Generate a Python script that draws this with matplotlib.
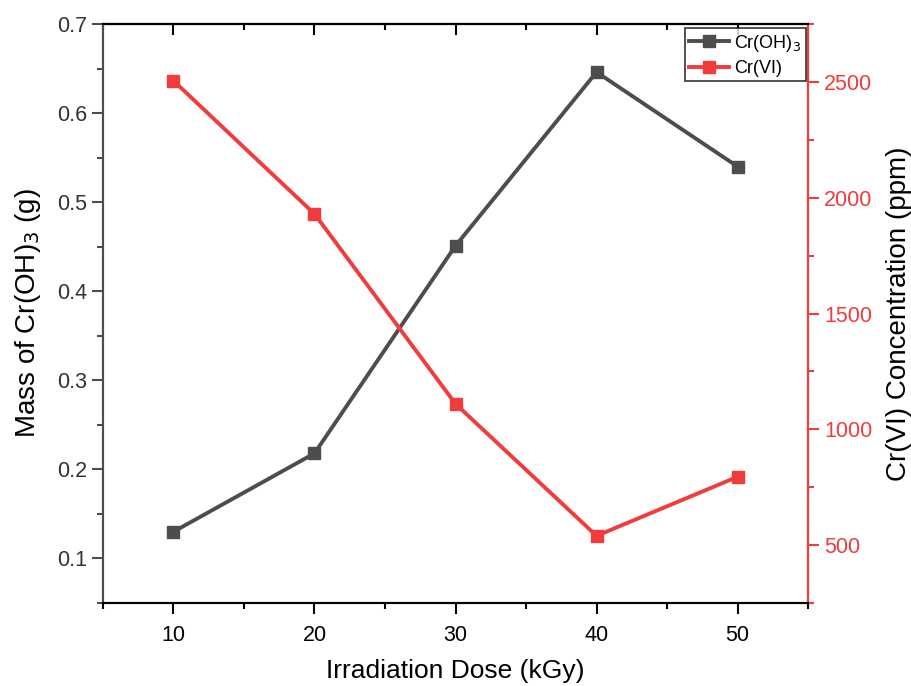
import matplotlib
matplotlib.use('Agg')
import matplotlib.pyplot as plt
from matplotlib.ticker import MultipleLocator

plt.rcParams['font.family'] = ['Liberation Sans', 'DejaVu Sans']

dose = [10, 20, 30, 40, 50]
mass_croh3 = [0.13, 0.218, 0.451, 0.646, 0.54]
cr6_conc = [2505, 1930, 1110, 540, 795]

gray = '#4d4d4d'
red = '#f03c3c'

fig = plt.figure(figsize=(9.11, 6.86), dpi=100)
ax = fig.add_axes([0.113, 0.121, 0.774, 0.844])
ax2 = ax.twinx()

l1, = ax.plot(dose, mass_croh3, color=gray, lw=2.8, marker='s', ms=8.5, label='Cr(OH)$_3$')
l2, = ax2.plot(dose, cr6_conc, color=red, lw=2.8, marker='s', ms=8.5, label='Cr(VI)')

ax.set_xlim(5, 55)
ax.set_ylim(0.05, 0.7)
ax2.set_ylim(250, 2750)

ax.xaxis.set_major_locator(MultipleLocator(10))
ax.xaxis.set_minor_locator(MultipleLocator(5))
ax.yaxis.set_major_locator(MultipleLocator(0.1))
ax.yaxis.set_minor_locator(MultipleLocator(0.05))
ax2.yaxis.set_major_locator(MultipleLocator(500))
ax2.yaxis.set_minor_locator(MultipleLocator(250))

ax.spines['left'].set_color(gray)
ax2.spines['left'].set_color(gray)
ax2.spines['right'].set_color(red)
for a in (ax, ax2):
    for s in a.spines.values():
        s.set_linewidth(1.5)
ax2.spines['bottom'].set_color('black')
ax2.spines['top'].set_color('black')

ax.tick_params(axis='x', which='major', direction='out', length=8, width=1.5, labelsize=15.5, colors='black', pad=8)
ax.tick_params(axis='x', which='minor', direction='out', length=4, width=1.5)
ax.tick_params(axis='y', which='major', direction='out', length=8, width=1.5, labelsize=15.5, colors=gray, labelcolor='#333333')
ax.tick_params(axis='y', which='minor', direction='out', length=4, width=1.5, colors=gray)
ax2.tick_params(axis='y', which='major', direction='out', length=8, width=1.5, labelsize=15.5, colors=red)
ax2.tick_params(axis='y', which='minor', direction='out', length=4, width=1.5, colors=red)

top = ax.secondary_xaxis('top')
top.xaxis.set_major_locator(MultipleLocator(10))
top.xaxis.set_minor_locator(MultipleLocator(5))
top.tick_params(which='major', direction='in', length=8, width=1.5, labeltop=False)
top.tick_params(which='minor', direction='in', length=4, width=1.5)
top.spines['top'].set_linewidth(1.5)

ax.set_xlabel('Irradiation Dose (kGy)', fontsize=19, labelpad=9)
ax.set_ylabel('Mass of Cr(OH)$_3$ (g)', fontsize=20, labelpad=10)
ax2.set_ylabel('Cr(VI) Concentration (ppm)', fontsize=20, labelpad=10)

leg = ax2.legend([l1, l2], ['Cr(OH)$_3$', 'Cr(VI)'], loc='upper right',
                 bbox_to_anchor=(0.997, 0.993), fontsize=13, frameon=True,
                 fancybox=False, edgecolor='black', borderpad=0.25,
                 handlelength=2.2, handletextpad=0.3, labelspacing=0.35,
                 borderaxespad=0)
leg.get_frame().set_linewidth(1.2)

fig.savefig('out.png', dpi=100)
